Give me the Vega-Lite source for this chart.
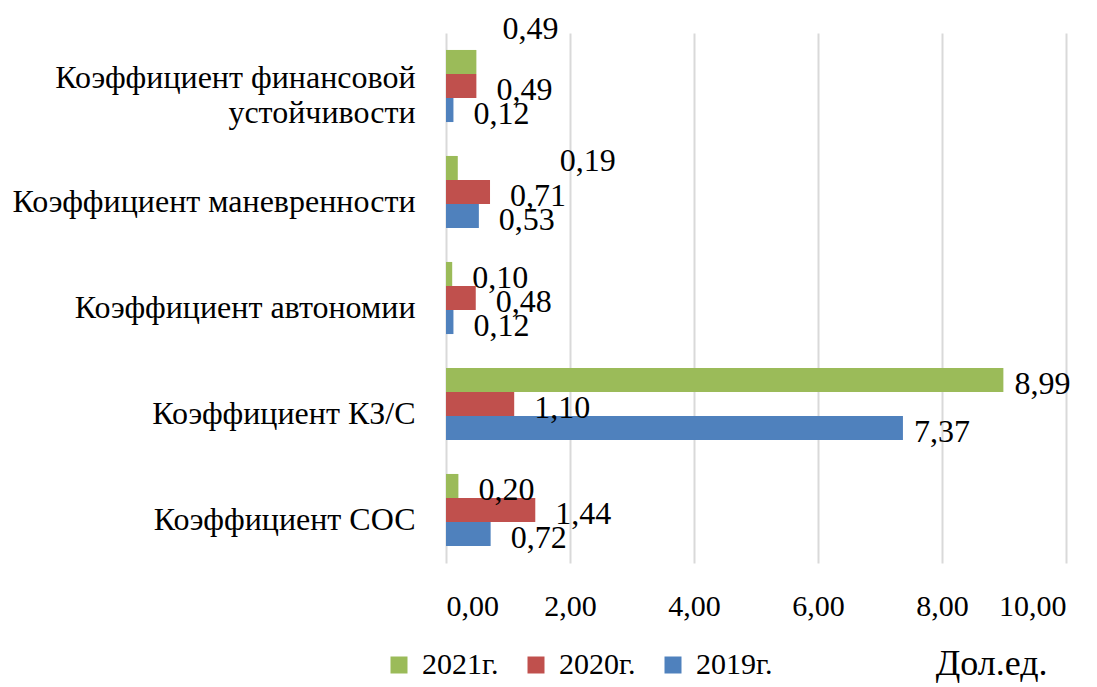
{
  "$schema": "https://vega.github.io/schema/vega-lite/v6.json",
  "width": 620,
  "height": 530,
  "autosize": {"type": "none"},
  "padding": {"left": 446, "top": 33, "right": 31, "bottom": 124},
  "config": {
    "locale": {"number": {"decimal": ",", "thousands": " ", "grouping": [3], "currency": ["", ""]}},
    "font": "'Liberation Serif', 'Times New Roman', Times, serif",
    "text": {"font": "'Liberation Serif', 'Times New Roman', Times, serif"},
    "axis": {"labelFont": "'Liberation Serif', 'Times New Roman', Times, serif", "titleFont": "'Liberation Serif', 'Times New Roman', Times, serif"},
    "legend": {"labelFont": "'Liberation Serif', 'Times New Roman', Times, serif"},
    "view": {"stroke": null}
  },
  "data": {
    "values": [
      {"category": "Коэффициент финансовой устойчивости", "year": "2021г.", "value": 0.49},
      {"category": "Коэффициент финансовой устойчивости", "year": "2020г.", "value": 0.49},
      {"category": "Коэффициент финансовой устойчивости", "year": "2019г.", "value": 0.12},
      {"category": "Коэффициент маневренности", "year": "2021г.", "value": 0.19},
      {"category": "Коэффициент маневренности", "year": "2020г.", "value": 0.71},
      {"category": "Коэффициент маневренности", "year": "2019г.", "value": 0.53},
      {"category": "Коэффициент автономии", "year": "2021г.", "value": 0.10},
      {"category": "Коэффициент автономии", "year": "2020г.", "value": 0.48},
      {"category": "Коэффициент автономии", "year": "2019г.", "value": 0.12},
      {"category": "Коэффициент КЗ/С", "year": "2021г.", "value": 8.99},
      {"category": "Коэффициент КЗ/С", "year": "2020г.", "value": 1.10},
      {"category": "Коэффициент КЗ/С", "year": "2019г.", "value": 7.37},
      {"category": "Коэффициент СОС", "year": "2021г.", "value": 0.20},
      {"category": "Коэффициент СОС", "year": "2020г.", "value": 1.44},
      {"category": "Коэффициент СОС", "year": "2019г.", "value": 0.72}
    ]
  },
  "encoding": {
    "y": {
      "field": "category",
      "type": "nominal",
      "sort": ["Коэффициент финансовой устойчивости", "Коэффициент маневренности", "Коэффициент автономии", "Коэффициент КЗ/С", "Коэффициент СОС"],
      "scale": {"paddingInner": 0.32, "paddingOuter": 0.16},
      "axis": {
        "title": null,
        "ticks": false,
        "domain": false,
        "labelFontSize": 32,
        "labelColor": "#000000",
        "labelPadding": 31,
        "labelOffset": {"condition": {"test": "datum.value == 'Коэффициент финансовой устойчивости'", "value": -8}, "value": 10},
        "labelLimit": 0,
        "labelLineHeight": 35,
        "labelExpr": "datum.value == 'Коэффициент финансовой устойчивости' ? ['Коэффициент финансовой', 'устойчивости'] : datum.value"
      }
    },
    "yOffset": {"field": "year", "type": "nominal", "sort": ["2021г.", "2020г.", "2019г."]},
    "x": {
      "field": "value",
      "type": "quantitative",
      "scale": {"domain": [0, 10], "nice": false},
      "axis": {
        "values": [0, 2, 4, 6, 8, 10],
        "format": ".2f",
        "grid": true,
        "gridColor": "#d9d9d9",
        "gridWidth": 2,
        "ticks": false,
        "domain": false,
        "labelFontSize": 30,
        "labelColor": "#000000",
        "labelPadding": 28,
        "title": "Дол.ед.",
        "titleFontSize": 36,
        "titleFontWeight": "normal",
        "titleColor": "#000000",
        "titleX": 601,
        "titleY": 100,
        "titleAlign": "right",
        "titleBaseline": "middle"
      }
    }
  },
  "layer": [
    {
      "mark": {"type": "bar"},
      "encoding": {
        "color": {
          "field": "year",
          "type": "nominal",
          "scale": {"domain": ["2021г.", "2020г.", "2019г."], "range": ["#9bbb59", "#c0504d", "#4f81bd"]},
          "legend": {
            "orient": "none",
            "legendX": -62,
            "legendY": 617,
            "direction": "horizontal",
            "title": null,
            "symbolType": "square",
            "symbolSize": 289,
            "symbolStrokeWidth": 0,
            "labelFontSize": 30,
            "labelColor": "#000000",
            "labelOffset": 8,
            "columnPadding": 22,
            "labelLimit": 0
          }
        }
      }
    },
    {
      "transform": [{"filter": "datum.value < 5 && !(datum.year == '2021г.' && (datum.category == 'Коэффициент финансовой устойчивости' || datum.category == 'Коэффициент маневренности'))"}],
      "mark": {"type": "text", "align": "left", "baseline": "middle", "dx": 20, "dy": 4, "fontSize": 32, "color": "#000000"},
      "encoding": {"text": {"field": "value", "type": "quantitative", "format": ".2f"}}
    },
    {
      "transform": [{"filter": "datum.value >= 5"}],
      "mark": {"type": "text", "align": "left", "baseline": "middle", "dx": 11, "dy": 4, "fontSize": 32, "color": "#000000"},
      "encoding": {"text": {"field": "value", "type": "quantitative", "format": ".2f"}}
    },
    {
      "transform": [{"filter": "datum.year == '2021г.' && datum.category == 'Коэффициент финансовой устойчивости'"}],
      "mark": {"type": "text", "align": "left", "baseline": "middle", "dx": 26, "dy": -33, "fontSize": 32, "color": "#000000"},
      "encoding": {"text": {"field": "value", "type": "quantitative", "format": ".2f"}}
    },
    {
      "transform": [{"filter": "datum.year == '2021г.' && datum.category == 'Коэффициент маневренности'"}],
      "mark": {"type": "text", "align": "left", "baseline": "middle", "dx": 102, "dy": -7, "fontSize": 32, "color": "#000000"},
      "encoding": {"text": {"field": "value", "type": "quantitative", "format": ".2f"}}
    }
  ]
}
